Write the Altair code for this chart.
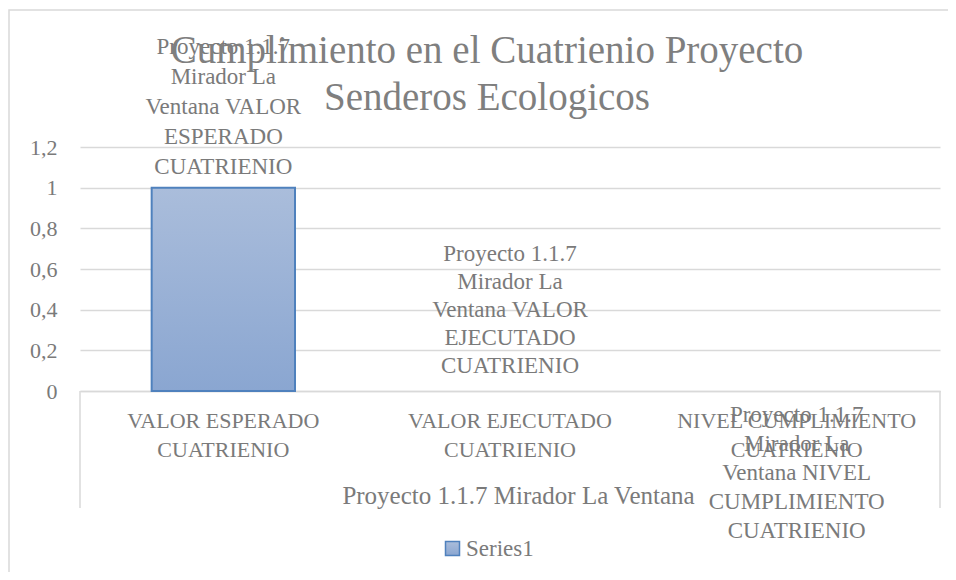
import altair as alt
import pandas as pd

categories = ["VALOR ESPERADO CUATRIENIO", "VALOR EJECUTADO CUATRIENIO", "NIVEL CUMPLIMIENTO CUATRIENIO"]
values = [1, 0, 0]
series = ["Series1", "Series1", "Series1"]
group_label = "Proyecto 1.1.7 Mirador La Ventana"
data_labels = [
    "Proyecto 1.1.7\nMirador La\nVentana VALOR\nESPERADO\nCUATRIENIO",
    "Proyecto 1.1.7\nMirador La\nVentana VALOR\nEJECUTADO\nCUATRIENIO",
    "Proyecto 1.1.7\nMirador La\nVentana NIVEL\nCUMPLIMIENTO\nCUATRIENIO",
]
y_ticks = [0, 0.2, 0.4, 0.6, 0.8, 1, 1.2]
title_lines = ["Cumplimiento en el Cuatrienio Proyecto", "Senderos  Ecologicos"]

df = pd.DataFrame({"cat": categories, "value": values, "series": series, "label": data_labels})

FONT = "Liberation Serif"
GREY = "#7a7a7a"
W, H = 860, 244

xenc = alt.X(
    "cat:N", sort=categories,
    scale=alt.Scale(paddingInner=0.5, paddingOuter=0.25),
    axis=alt.Axis(
        title=group_label, labelAngle=0, ticks=False, tickSize=0, labelLimit=400,
        labelExpr="[replace(datum.label, ' CUATRIENIO', ''), 'CUATRIENIO']",
        labelFont=FONT, labelFontSize=22, labelColor=GREY, labelLineHeight=29,
        labelPadding=19, labelBaseline="top",
        domainColor="#d9d9d9", domainWidth=1.5,
        titleFont=FONT, titleFontSize=25, titleFontWeight="normal", titleColor=GREY,
        titleX=438, titleY=104, titleBaseline="middle", titleAlign="center",
    ),
)
yenc = alt.Y(
    "value:Q", scale=alt.Scale(domain=[0, 1.2], nice=False),
    axis=alt.Axis(
        title=None, values=y_ticks, domain=False, ticks=False,
        labelExpr="replace(format(datum.value, '~g'), '.', ',')",
        labelFont=FONT, labelFontSize=22, labelColor=GREY, labelPadding=23,
        gridColor="#d9d9d9", gridWidth=1.5,
    ),
)

base = alt.Chart(df)

border = base.mark_rect(fill="transparent", stroke="#d9d9d9", strokeWidth=1.5).encode(
    x=alt.value(-71), x2=alt.value(885), y=alt.value(-137), y2=alt.value(460)
).transform_filter(alt.datum.value > 0)

gradient = alt.LinearGradient(
    gradient="linear", x1=0, x2=0, y1=0, y2=1,
    stops=[alt.GradientStop(color="#aabddb", offset=0), alt.GradientStop(color="#8aa6d1", offset=1)],
)

bars = base.transform_filter(alt.datum.value > 0).mark_bar(fill=gradient, strokeWidth=2).encode(
    x=xenc, y=yenc,
    stroke=alt.Stroke(
        "series:N", scale=alt.Scale(range=["#4f81bd"]),
        legend=alt.Legend(
            title=None, orient="none", legendX=361, legendY=390,
            symbolType="square", symbolSize=196, symbolFillColor="#9db2d8", symbolStrokeWidth=1.5,
            labelFont=FONT, labelFontSize=23, labelColor=GREY, labelOffset=2,
        ),
    ),
)

left_rule = base.mark_rule(color="#d9d9d9", strokeWidth=1.5).encode(
    x=alt.value(0), y=alt.value(H), y2=alt.value(H + 117)
).transform_filter(alt.datum.value > 0)
right_rule = base.mark_rule(color="#d9d9d9", strokeWidth=1.5).encode(
    x=alt.value(W), y=alt.value(H), y2=alt.value(H + 117)
).transform_filter(alt.datum.value > 0)


def label_layer(cat, dy, line_height):
    return base.transform_filter(alt.datum.cat == cat).mark_text(
        font=FONT, fontSize=23, color=GREY, baseline="top", align="center",
        lineBreak="\n", lineHeight=line_height, dy=dy,
    ).encode(x=alt.X("cat:N", sort=categories), y=alt.Y("value:Q"), text="label:N")


labels = [
    label_layer(categories[0], -152, 30),
    label_layer(categories[1], -148, 28),
    label_layer(categories[2], 13, 29),
]

chart = alt.layer(border, left_rule, right_rule, bars, *labels).properties(
    width=W, height=H,
    autosize=alt.AutoSizeParams(type="none"),
    padding={"left": 72, "top": 139, "right": 8, "bottom": 181},
    title=alt.Title(
        title_lines, font=FONT, fontSize=39, fontWeight="normal", color="#7f7f7f",
        anchor="middle", dx=-23, dy=141, offset=32, lineHeight=47,
    ),
    background="white",
).configure_view(stroke=None)

chart.save("out.html", embed_options={"renderer": "svg", "actions": False})
